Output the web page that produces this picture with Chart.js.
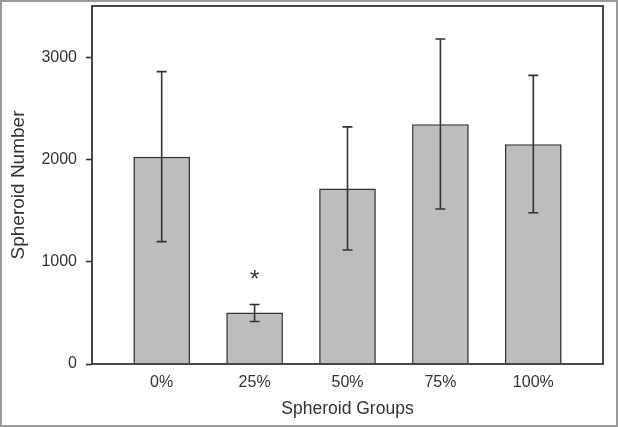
<!DOCTYPE html>
<html>
<head>
<meta charset="utf-8">
<script src="https://cdn.jsdelivr.net/npm/chart.js@4.4.0/dist/chart.umd.min.js"></script>
<style>
  html, body { margin: 0; padding: 0; background: #fff; }
  #wrap { width: 618px; height: 427px; }
</style>
</head>
<body>
<div id="wrap"><canvas id="chart" width="618" height="427"></canvas></div>
<script>
// data
const groups = ["0%", "25%", "50%", "75%", "100%"];
const means = [2025, 503, 1717, 2344, 2149];
const errHigh = [2858, 581, 2318, 3177, 2822];
const errLow = [1196, 416, 1115, 1515, 1479];
const marks = ["", "*", "", "", ""];
const yTicks = [0, 1000, 2000, 3000];

const ink = "#333333";
const font = "'Liberation Sans', Arial, sans-serif";

// error bars + significance marks + frames
const extras = {
  id: "extras",
  afterDatasetsDraw(chart) {
    const ctx = chart.ctx;
    const xs = chart.scales.x, ys = chart.scales.y;
    const a = chart.chartArea;
    ctx.save();
    ctx.strokeStyle = ink;
    ctx.lineWidth = 1.6;
    means.forEach((m, i) => {
      const x = xs.getPixelForValue(i);
      const hi = ys.getPixelForValue(errHigh[i]);
      const lo = ys.getPixelForValue(errLow[i]);
      ctx.beginPath();
      ctx.moveTo(x, hi); ctx.lineTo(x, lo);
      ctx.moveTo(x - 5, hi); ctx.lineTo(x + 5, hi);
      ctx.moveTo(x - 5, lo); ctx.lineTo(x + 5, lo);
      ctx.stroke();
      if (marks[i]) {
        ctx.fillStyle = ink;
        ctx.font = "24px " + font;
        ctx.textAlign = "center";
        ctx.textBaseline = "alphabetic";
        ctx.fillText(marks[i], x, hi - 18);
      }
    });
    // plot box
    ctx.lineWidth = 1.8;
    ctx.strokeRect(a.left, a.top, a.right - a.left, a.bottom - a.top);
    // outer frame
    ctx.strokeStyle = "#9a9a9a";
    ctx.lineWidth = 2;
    ctx.strokeRect(1, 1, chart.width - 2, chart.height - 2);
    ctx.restore();
  }
};

new Chart(document.getElementById("chart"), {
  type: "bar",
  data: {
    datasets: [{
      data: means.map((v, i) => ({ x: i, y: v })),
      backgroundColor: "#bdbdbf",
      borderColor: ink,
      borderWidth: 1.6,
      borderSkipped: "bottom",
      barPercentage: 0.61,
      categoryPercentage: 1
    }]
  },
  options: {
    responsive: false,
    animation: false,
    layout: { padding: { left: 0, top: 6, right: 15, bottom: 0 } },
    plugins: { legend: { display: false }, tooltip: { enabled: false } },
    scales: {
      x: {
        type: "linear",
        offset: false,
        min: -0.75,
        max: 4.75,
        afterBuildTicks: s => { s.ticks = groups.map((g, i) => ({ value: i })); },
        afterFit: s => { s.height = 63; s.paddingLeft = 0; s.paddingRight = 0; },
        grid: { display: false, drawTicks: false },
        border: { display: false },
        ticks: {
          padding: 9,
          color: ink,
          font: { family: font, size: 16 },
          callback: v => groups[v]
        },
        title: {
          display: true,
          text: "Spheroid Groups",
          color: ink,
          font: { family: font, size: 17.5 },
          padding: { top: 0, bottom: 7.5 }
        }
      },
      y: {
        min: 0,
        max: 3500,
        afterBuildTicks: s => { s.ticks = yTicks.map(v => ({ value: v })); },
        afterFit: s => { s.width = 92; s.paddingTop = 0; s.paddingBottom = 0; },
        grid: { display: true, drawOnChartArea: false, drawTicks: true, tickLength: 6, tickColor: ink, tickWidth: 1.6 },
        border: { display: false },
        ticks: {
          padding: 9,
          color: ink,
          font: { family: font, size: 16 },
          callback: v => String(v)
        },
        title: {
          display: true,
          text: "Spheroid Number",
          color: ink,
          font: { family: font, size: 19 },
          padding: { top: 7.5, bottom: 0 }
        }
      }
    }
  },
  plugins: [extras]
});
</script>
</body>
</html>
